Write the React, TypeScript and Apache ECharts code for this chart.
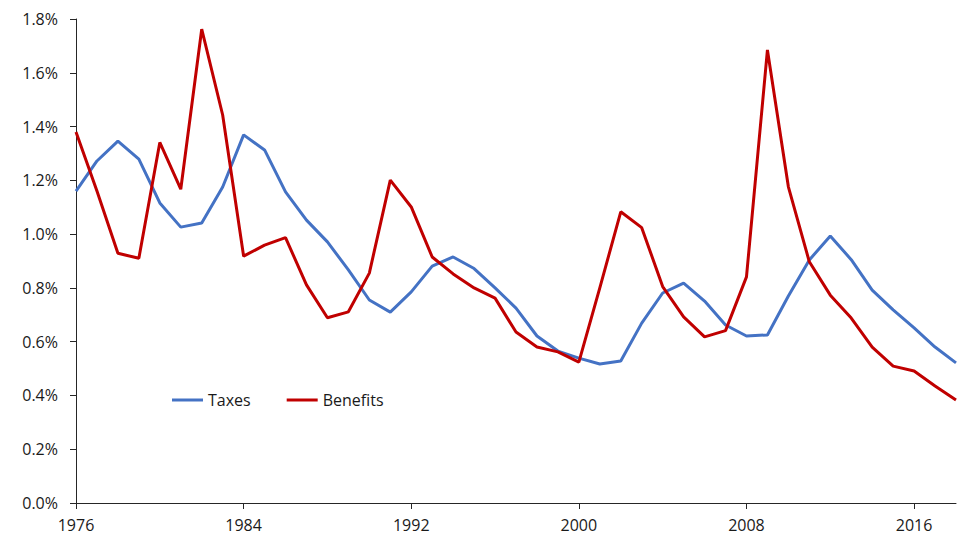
import React, { useEffect, useRef } from "react";
import * as echarts from "echarts";

const years: string[] = [];
for (let y = 1976; y <= 2018; y++) years.push(String(y));

const taxes = [
  1.16, 1.272, 1.346, 1.279, 1.116, 1.026, 1.041, 1.175, 1.369, 1.313,
  1.157, 1.052, 0.971, 0.867, 0.755, 0.71, 0.785, 0.881, 0.915, 0.872,
  0.8, 0.725, 0.621, 0.565, 0.539, 0.517, 0.528, 0.669, 0.781, 0.818,
  0.751, 0.662, 0.621, 0.625, 0.77, 0.904, 0.993, 0.905, 0.792, 0.718,
  0.651, 0.58, 0.521,
];

const benefits = [
  1.38, 1.16, 0.929, 0.91, 1.341, 1.167, 1.762, 1.443, 0.918, 0.959,
  0.987, 0.811, 0.689, 0.711, 0.855, 1.201, 1.101, 0.915, 0.852, 0.8,
  0.762, 0.636, 0.58, 0.562, 0.524, 0.8, 1.083, 1.024, 0.805, 0.692,
  0.618, 0.641, 0.841, 1.685, 1.176, 0.897, 0.773, 0.688, 0.58, 0.509,
  0.491, 0.435, 0.383,
];

const FONT = "'Open Sans', 'Noto Sans', sans-serif";
const TXT = "#1a1a1a";

export default function App() {
  const ref = useRef<HTMLDivElement>(null);
  useEffect(() => {
    if (!ref.current) return;
    const chart = echarts.init(ref.current, undefined, { renderer: "svg" });
    chart.setOption({
      animation: false,
      backgroundColor: "#ffffff",
      grid: { left: 76, right: 8, top: 19, bottom: 34, containLabel: false },
      legend: {
        left: 172,
        top: 392,
        padding: 0,
        icon: "rect",
        itemWidth: 31,
        itemHeight: 3,
        itemGap: 36,
        textStyle: { fontFamily: FONT, fontSize: 16, color: TXT },
        data: ["Taxes", "Benefits"],
      },
      xAxis: {
        type: "category",
        data: years,
        boundaryGap: false,
        axisLine: { lineStyle: { color: "#262626", width: 1 } },
        axisTick: { interval: 7, length: 6, lineStyle: { color: "#262626" } },
        axisLabel: {
          interval: 7,
          margin: 14,
          fontFamily: FONT,
          fontSize: 16,
          color: TXT,
        },
        splitLine: { show: false },
      },
      yAxis: {
        type: "value",
        min: 0,
        max: 1.8,
        interval: 0.2,
        axisLine: { show: true, lineStyle: { color: "#262626", width: 1 } },
        axisTick: { show: true, length: 6, lineStyle: { color: "#262626" } },
        axisLabel: {
          margin: 18,
          fontFamily: FONT,
          fontSize: 16,
          color: TXT,
          formatter: (v: number) => v.toFixed(1) + "%",
        },
        splitLine: { show: false },
      },
      series: [
        {
          name: "Taxes",
          type: "line",
          data: taxes,
          symbol: "none",
          lineStyle: { color: "#4472C4", width: 3 },
          itemStyle: { color: "#4472C4" },
        },
        {
          name: "Benefits",
          type: "line",
          data: benefits,
          symbol: "none",
          lineStyle: { color: "#C00000", width: 3 },
          itemStyle: { color: "#C00000" },
        },
      ],
    });
    return () => chart.dispose();
  }, []);
  return (
    <div
      ref={ref}
      style={{ position: "fixed", left: 0, top: 0, width: 964, height: 537 }}
    />
  );
}
